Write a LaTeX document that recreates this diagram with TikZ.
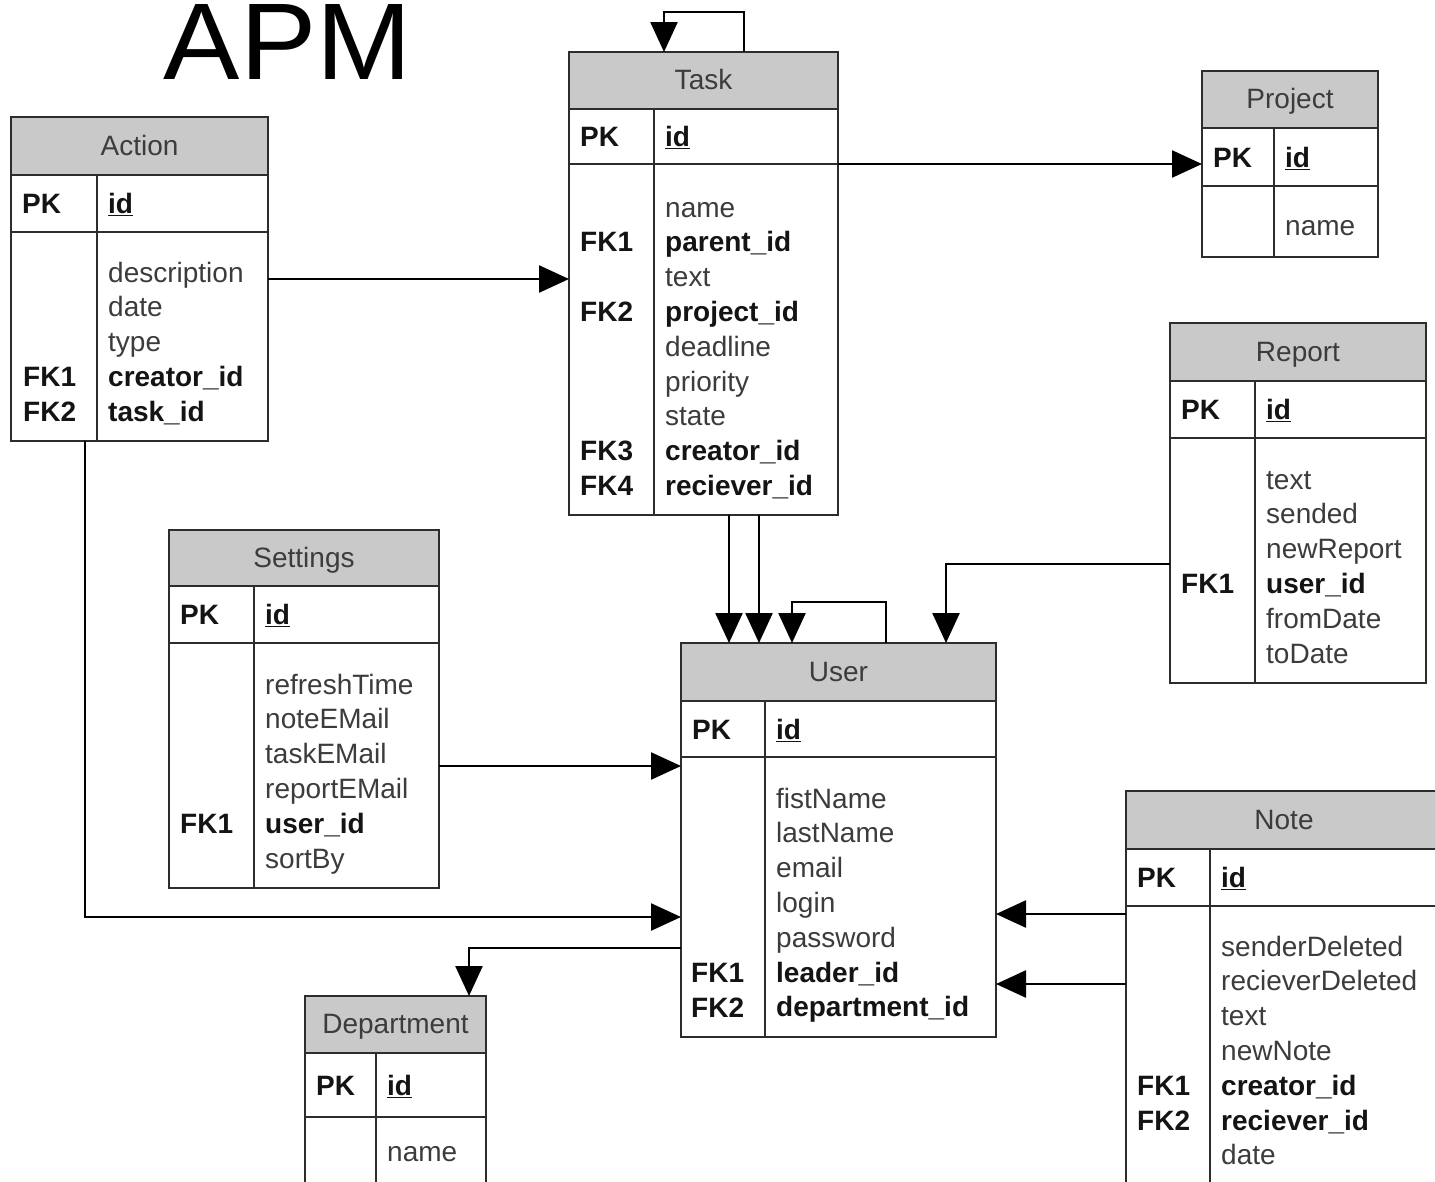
\documentclass[tikz,border=0pt]{standalone}
\usepackage{fontspec}
\setmainfont{Liberation Sans}
\usetikzlibrary{arrows.meta}
\definecolor{hdrgray}{RGB}{201,201,201}
\definecolor{linegray}{RGB}{45,45,45}
\definecolor{txtgray}{RGB}{60,60,60}
\definecolor{txtdark}{RGB}{20,20,20}
\tikzset{
 hdrfill/.style={fill=hdrgray},
 tblbox/.style={draw=linegray, line width=2pt, inner sep=0pt, outer sep=0pt, rectangle},
 tblline/.style={draw=linegray, line width=2pt},
 ttl/.style={font=\fontsize{28}{34}\selectfont, text=txtgray, anchor=base, inner sep=0pt},
 fld/.style={font=\fontsize{28}{34}\selectfont, text=txtgray, anchor=mid west, inner sep=0pt, yshift=-7.5pt},
 keylbl/.style={font=\fontsize{28}{34}\selectfont\bfseries, text=txtdark, anchor=mid west, inner sep=0pt, yshift=-7.5pt},
 conn/.style={line width=2.5pt, draw=black, -{Triangle[length=30pt,width=27pt]}},
}
% name, x1, y1, x2, y2, header bottom, pk bottom, divider x, title
\newcommand{\ertbl}[9]{%
 \fill[hdrfill] (#2,#3) rectangle (#4,#6);
 \node[tblbox, minimum width={#4-#2}, minimum height={#5-#3}] (#1) at ({(#2+#4)/2},{(#3+#5)/2}) {};
 \draw[tblline] (#2,#6) -- (#4,#6) (#2,#7) -- (#4,#7) (#8,#6) -- (#8,#5);
 \node[ttl] (#1-title) at ({(#2+#4)/2},{(#3+#6)/2+9}) {#9};
 \node[keylbl] (#1-pk) at ({#2+11},{(#6+#7)/2}) {PK};
 \node[fld, text=txtdark] (#1-id) at ({#8+11},{(#6+#7)/2}) {\bfseries\underline{id}};
}
% prefix, x, y0, list of text/bold
\newcommand{\ertfields}[4]{\foreach \t/\b [count=\i] in {#4}{\node[fld] (#1-f\i) at (#2,{#3+(\i-1)*34.8}) {\ifnum\b=1\color{txtdark}\bfseries\fi\t};}}
\newcommand{\ertkey}[4]{\node[keylbl] (#1) at (#2,#3) {#4};}
\begin{document}
\begin{tikzpicture}[x=1pt,y=-1pt]
\useasboundingbox (0,0) rectangle (1435,1181);
\fill[white] (0,0) rectangle (1435,1181);
\clip (0,0) rectangle (1435,1181);

\node[font=\fontsize{109}{109}\selectfont, anchor=base, inner sep=0pt] (apm) at (288,79.5) {\scalebox{1.05}[1]{APM}};

% Action
\ertbl{action}{11}{117}{268}{441}{175}{232}{97}{Action}
\ertfields{action}{108}{272}{description/0,date/0,type/0,creator\_id/1,task\_id/1}
\ertkey{action-k1}{23}{376.4}{FK1}
\ertkey{action-k2}{23}{411.2}{FK2}

% Task
\ertbl{task}{569}{52}{838}{515}{109}{164}{654}{Task}
\ertfields{task}{665}{207}{name/0,parent\_id/1,text/0,project\_id/1,deadline/0,priority/0,state/0,creator\_id/1,reciever\_id/1}
\ertkey{task-k1}{580}{241.8}{FK1}
\ertkey{task-k2}{580}{311.4}{FK2}
\ertkey{task-k3}{580}{450.6}{FK3}
\ertkey{task-k4}{580}{485.4}{FK4}

% Project
\ertbl{project}{1202}{71}{1378}{257}{128}{186}{1274}{Project}
\ertfields{project}{1285}{225}{name/0}

% Report
\ertbl{report}{1170}{323}{1426}{683}{381}{438}{1255}{Report}
\ertfields{report}{1266}{479}{text/0,sended/0,newReport/0,user\_id/1,fromDate/0,toDate/0}
\ertkey{report-k1}{1181}{583.4}{FK1}

% Settings
\ertbl{settings}{169}{530}{439}{888}{586}{643}{254}{Settings}
\ertfields{settings}{265}{684}{refreshTime/0,noteEMail/0,taskEMail/0,reportEMail/0,user\_id/1,sortBy/0}
\ertkey{settings-k1}{180}{823.2}{FK1}

% User
\ertbl{user}{681}{643}{996}{1037}{701}{757}{765}{User}
\ertfields{user}{776}{798}{fistName/0,lastName/0,email/0,login/0,password/0,leader\_id/1,department\_id/1}
\ertkey{user-k1}{691}{972.8}{FK1}
\ertkey{user-k2}{691}{1007.6}{FK2}

% Department
\ertbl{department}{305}{996}{486}{1210}{1053}{1117}{376}{Department}
\ertfields{department}{387}{1151}{name/0}

% Note
\ertbl{note}{1126}{791}{1442}{1210}{849}{906}{1210}{Note}
\ertfields{note}{1221}{946}{senderDeleted/0,recieverDeleted/0,text/0,newNote/0,creator\_id/1,reciever\_id/1,date/0}
\ertkey{note-k1}{1137}{1085.2}{FK1}
\ertkey{note-k2}{1137}{1120}{FK2}

% connector helper coordinates
\coordinate (taskloopA) at (744,52);
\coordinate (taskloopB) at (664,12);
\coordinate (taskpk) at (838,164);
\coordinate (tu1) at (729,515);
\coordinate (tu2) at (759,515);
\coordinate (userloopA) at (886,643);
\coordinate (userloopB) at (792,602);
\coordinate (repout) at (1170,564);
\coordinate (repdown) at (946,564);
\coordinate (setout) at (439,766);
\coordinate (actdown) at (85,441);
\coordinate (actturn) at (85,917);
\coordinate (userdep) at (681,948);
\coordinate (depturn) at (469,948);
\coordinate (note1) at (1126,914);
\coordinate (note2) at (1126,984);

% connectors
\draw[conn] (taskloopA) |- (taskloopB) -- (taskloopB |- task.north);
\draw[conn] (action.east) -- (action.east -| task.west);
\draw[conn] (taskpk) -- (taskpk -| project.west);
\draw[conn] (tu1) -- (tu1 |- user.north);
\draw[conn] (tu2) -- (tu2 |- user.north);
\draw[conn] (userloopA) |- (userloopB) -- (userloopB |- user.north);
\draw[conn] (repout) -- (repdown) -- (repdown |- user.north);
\draw[conn] (setout) -- (setout -| user.west);
\draw[conn] (actdown) -- (actturn) -- (actturn -| user.west);
\draw[conn] (userdep) -- (depturn) -- (depturn |- department.north);
\draw[conn] (note1) -- (note1 -| user.east);
\draw[conn] (note2) -- (note2 -| user.east);
\end{tikzpicture}
\end{document}
